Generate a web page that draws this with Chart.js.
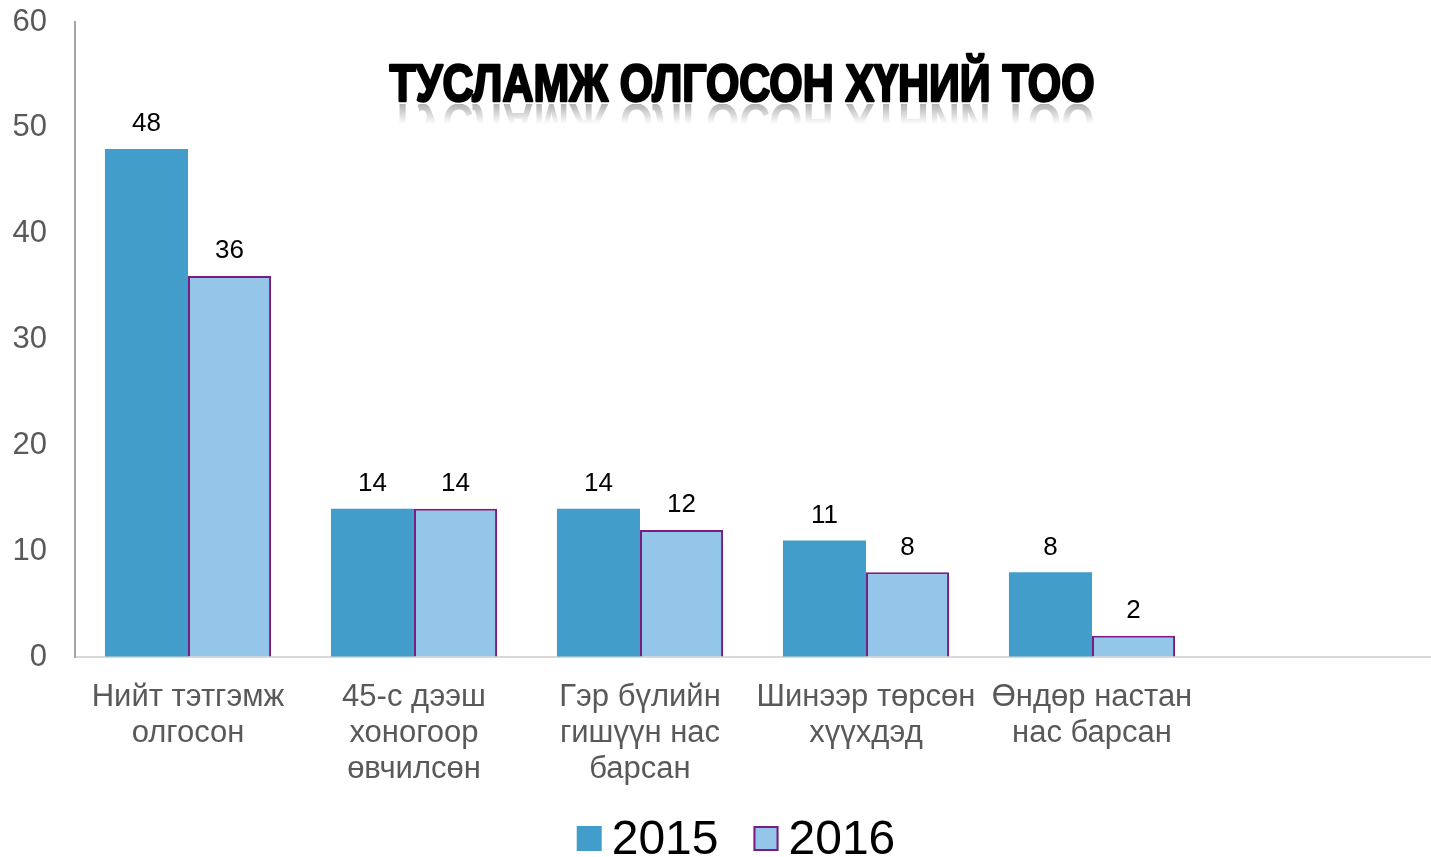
<!DOCTYPE html>
<html>
<head>
<meta charset="utf-8">
<script src="https://cdn.jsdelivr.net/npm/chart.js@4.4.1/dist/chart.umd.min.js"></script>
<style>
  html, body { margin: 0; padding: 0; background: #fff; }
  #wrap { width: 1431px; height: 857px; position: relative; }
</style>
</head>
<body>
<div id="wrap"><canvas id="mychart"></canvas></div>
<script>
const categories = [
  ['Нийт тэтгэмж', 'олгосон'],
  ['45-с дээш', 'хоногоор', 'өвчилсөн'],
  ['Гэр бүлийн', 'гишүүн нас', 'барсан'],
  ['Шинээр төрсөн', 'хүүхдэд'],
  ['Өндөр настан', 'нас барсан'],
  ''
];
const values2015 = [48, 14, 14, 11, 8, null];
const values2016 = [36, 14, 12, 8, 2, null];
const yTicks = [0, 10, 20, 30, 40, 50, 60];
const chartTitle = 'ТУСЛАМЖ ОЛГОСОН ХҮНИЙ ТОО';

const FONT = "'Liberation Sans', Arial, sans-serif";

// numbers above the bars
const valueLabels = {
  id: 'valueLabels',
  afterDatasetsDraw(chart) {
    const ctx = chart.ctx;
    ctx.save();
    ctx.font = '26px ' + FONT;
    ctx.fillStyle = '#000';
    ctx.textAlign = 'center';
    ctx.textBaseline = 'middle';
    chart.data.datasets.forEach((ds, i) => {
      chart.getDatasetMeta(i).data.forEach((bar, j) => {
        if (ds.data[j] == null) return;
        ctx.fillText(ds.data[j], bar.x, bar.y - 25);
      });
    });
    ctx.restore();
  }
};

// big title with a faint reflection
const bigTitle = {
  id: 'bigTitle',
  afterDraw(chart) {
    const ctx = chart.ctx;
    const cx = 742, base = 101, w = 705;
    ctx.save();
    ctx.font = 'bold 52px ' + FONT;
    const m = ctx.measureText(chartTitle).width;
    const sx = w / m;

    const off = document.createElement('canvas');
    off.width = 760; off.height = 30;
    const o = off.getContext('2d');
    o.font = 'bold 52px ' + FONT;
    o.save();
    o.translate(380, 0);
    o.scale(sx, -1);
    o.textAlign = 'center';
    o.fillStyle = '#000';
    o.fillText(chartTitle, 0, 0);
    o.restore();
    o.globalCompositeOperation = 'destination-in';
    const g = o.createLinearGradient(0, 0, 0, 20);
    g.addColorStop(0, 'rgba(0,0,0,0.3)');
    g.addColorStop(1, 'rgba(0,0,0,0)');
    o.fillStyle = g;
    o.fillRect(0, 0, 760, 30);
    ctx.drawImage(off, cx - 380, base + 3);

    ctx.translate(cx, base);
    ctx.scale(sx, 1);
    ctx.textAlign = 'center';
    ctx.fillStyle = '#000';
    ctx.strokeStyle = '#000';
    ctx.lineWidth = 2.5;
    ctx.lineJoin = 'round';
    ctx.fillText(chartTitle, 0, 0);
    ctx.strokeText(chartTitle, 0, 0);
    ctx.restore();
  }
};

// legend drawn under the axis labels, colours taken from the datasets
const bottomLegend = {
  id: 'bottomLegend',
  afterDraw(chart) {
    const ctx = chart.ctx;
    const box = 25, gap = 10, itemGap = 35, base = 854;
    ctx.save();
    ctx.font = '48px ' + FONT;
    const items = chart.data.datasets.map(ds => ({ ds, w: ctx.measureText(ds.label).width }));
    const total = items.reduce((s, it) => s + box + gap + it.w, 0) + itemGap * (items.length - 1);
    let x = 736 - total / 2;
    items.forEach(it => {
      const bw = it.ds.borderWidth || 0;
      ctx.fillStyle = it.ds.backgroundColor;
      ctx.fillRect(x, base - 28, box, box);
      if (bw) {
        ctx.strokeStyle = it.ds.borderColor;
        ctx.lineWidth = bw;
        ctx.strokeRect(x + bw / 2, base - 28 + bw / 2, box - bw, box - bw);
      }
      ctx.fillStyle = '#000';
      ctx.textBaseline = 'alphabetic';
      ctx.fillText(it.ds.label, x + box + gap, base);
      x += box + gap + it.w + itemGap;
    });
    ctx.restore();
  }
};

new Chart(document.getElementById('mychart'), {
  type: 'bar',
  data: {
    labels: categories,
    datasets: [
      {
        label: '2015',
        data: values2015,
        backgroundColor: '#429DCB',
        borderColor: '#429DCB',
        borderWidth: 0,
        categoryPercentage: 0.735,
        barPercentage: 1
      },
      {
        label: '2016',
        data: values2016,
        backgroundColor: '#93C6E9',
        borderColor: '#7A1C80',
        borderWidth: 2,
        borderSkipped: 'bottom',
        categoryPercentage: 0.735,
        barPercentage: 1
      }
    ]
  },
  options: {
    responsive: true,
    maintainAspectRatio: false,
    animation: false,
    layout: { padding: { top: 22, left: 0, right: 0, bottom: 0 } },
    plugins: {
      legend: { display: false },
      tooltip: { enabled: false },
      title: { display: false }
    },
    scales: {
      x: {
        afterFit: (scale) => { scale.height = 200; },
        grid: { display: true, drawOnChartArea: false, drawTicks: false },
        border: { display: true, color: '#D9D9D9', width: 2 },
        ticks: {
          color: '#595959',
          font: { family: FONT, size: 31, lineHeight: 36 / 31 },
          padding: 22,
          maxRotation: 0,
          autoSkip: false
        }
      },
      y: {
        min: 0,
        max: 60,
        afterBuildTicks: (scale) => { scale.ticks = yTicks.map(v => ({ value: v })); },
        afterFit: (scale) => { scale.width = 75; },
        grid: { display: true, drawOnChartArea: false, drawTicks: true, tickLength: 28, tickColor: 'rgba(0,0,0,0)' },
        border: { display: true, color: '#A6A6A6', width: 2 },
        ticks: {
          color: '#595959',
          font: { family: FONT, size: 31, lineHeight: 36 / 31 },
          padding: 0
        }
      }
    }
  },
  plugins: [valueLabels, bigTitle, bottomLegend]
});
</script>
</body>
</html>
